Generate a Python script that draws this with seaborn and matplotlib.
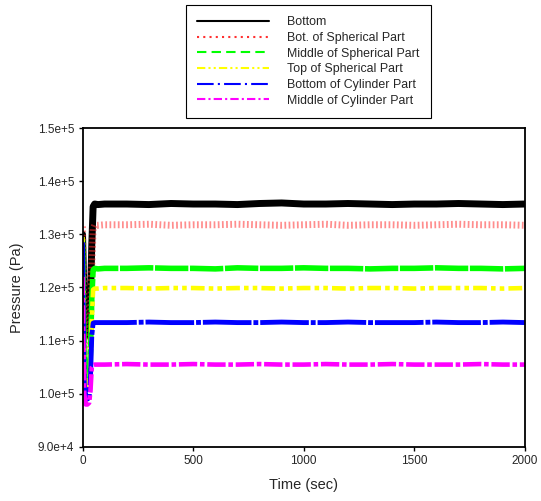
import matplotlib
matplotlib.use("Agg")
import matplotlib.pyplot as plt
from matplotlib.lines import Line2D
from matplotlib.ticker import FuncFormatter, MultipleLocator
import pandas as pd
import seaborn as sns

# Sample times (s)
time_s = [0, 3, 8, 15, 22, 30, 36, 42, 48, 55, 70, 100,
          200, 300, 400, 500, 600, 700, 800, 900, 1000, 1100,
          1200, 1300, 1400, 1500, 1600, 1700, 1800, 1900, 2000]

# Pressure readings (Pa) at each monitoring location
p_bottom = [130000, 125000, 116000, 112000, 111000, 112500, 118000, 128000, 135200, 135700, 135600, 135700,
            135700, 135600, 135800, 135700, 135700, 135600, 135800, 135900, 135700, 135700,
            135800, 135700, 135600, 135700, 135700, 135800, 135700, 135600, 135700]
p_bot_sph = [131500, 125000, 114000, 109500, 108000, 109000, 114000, 124000, 131000, 131700, 131700, 131800,
             131800, 131900, 131700, 131800, 131800, 131900, 131800, 131700, 131800, 131900,
             131700, 131800, 131800, 131700, 131800, 131900, 131800, 131800, 131700]
p_mid_sph = [129000, 120000, 107000, 103500, 102500, 103000, 108000, 118000, 123300, 123600, 123500, 123600,
             123600, 123700, 123600, 123600, 123500, 123700, 123600, 123600, 123700, 123600,
             123600, 123500, 123600, 123600, 123700, 123600, 123600, 123500, 123600]
p_top_sph = [129500, 119000, 105000, 101500, 100700, 101000, 105000, 114000, 119600, 119800, 119800, 119900,
             119900, 119800, 119900, 119900, 119800, 119900, 119900, 119800, 119900, 119900,
             119800, 119900, 119900, 119800, 119900, 119900, 119900, 119800, 119900]
p_bot_cyl = [128500, 117000, 102000, 99500, 99000, 99300, 103000, 111000, 113300, 113400, 113400, 113400,
             113400, 113500, 113400, 113400, 113500, 113400, 113400, 113500, 113400, 113400,
             113500, 113400, 113400, 113400, 113500, 113400, 113400, 113500, 113400]
p_mid_cyl = [122000, 112000, 100000, 98000, 98000, 98300, 100500, 105000, 105400, 105500, 105500, 105500,
             105600, 105500, 105500, 105600, 105500, 105500, 105600, 105500, 105500, 105600,
             105500, 105500, 105600, 105500, 105500, 105500, 105600, 105500, 105500]

series_names = ["Bottom", "Bot. of Spherical Part", "Middle of Spherical Part",
                "Top of Spherical Part", "Bottom of Cylinder Part", "Middle of Cylinder Part"]
series_values = [p_bottom, p_bot_sph, p_mid_sph, p_top_sph, p_bot_cyl, p_mid_cyl]
colors = ["#000000", "#ff3030", "#00ff00", "#ffff00", "#0000ff", "#ff00ff"]

# dash patterns for the data bands and for the legend keys
plot_dashes = ["", (0.25, 0.35), (6, 0.3), (3, 0.9, 1, 0.9, 1, 0.9), (10, 0.4, 1, 0.4), (4, 0.6, 1, 0.6)]
plot_widths = [5.0, 5.0, 4.0, 3.3, 3.5, 3.3]
key_dashes = [None, (1, 2), (4.5, 2.5), (4, 1.5, 1, 1.5, 1, 1.5), (8, 2, 1, 2), (4, 1.5, 1, 1.5)]

df = pd.concat(
    [pd.DataFrame({"Time": time_s, "Pressure": v, "Location": n})
     for n, v in zip(series_names, series_values)],
    ignore_index=True,
)

sns.set_style("ticks")
plt.rcParams["font.family"] = ["Liberation Sans", "DejaVu Sans"]

fig = plt.figure(figsize=(5.41, 5.01), dpi=100)
ax = fig.add_axes([0.1525, 0.1078, 0.8179, 0.6367])

sns.lineplot(
    data=df, x="Time", y="Pressure",
    hue="Location", hue_order=series_names, palette=dict(zip(series_names, colors)),
    style="Location", style_order=series_names, dashes=dict(zip(series_names, plot_dashes)),
    size="Location", size_order=series_names, sizes=dict(zip(series_names, plot_widths)),
    legend=False, ax=ax, estimator=None, sort=False,
)
for ln, c in zip(ax.get_lines(), colors):
    if c == "#ff3030":
        ln.set_alpha(0.55)

ax.set_xlim(0, 2000)
ax.set_ylim(90000, 150000)
ax.xaxis.set_major_locator(MultipleLocator(500))
ax.yaxis.set_major_locator(MultipleLocator(10000))


def sci_fmt(v, pos):
    mant, exp = f"{v:.1e}".split("e")
    return f"{mant}e{int(exp):+d}"


ax.yaxis.set_major_formatter(FuncFormatter(sci_fmt))
ax.tick_params(direction="out", length=3, width=1, labelsize=8.5, pad=3, color="black")
for s in ax.spines.values():
    s.set_visible(True)
    s.set_linewidth(1.3)
    s.set_color("black")

ax.set_xlabel("Time (sec)", fontsize=10.5, labelpad=8)
ax.set_ylabel("Pressure (Pa)", fontsize=10.5, labelpad=10)

handles = []
for c, d in zip(colors, key_dashes):
    h = Line2D([], [], color=c, linewidth=1.5)
    if d is not None:
        h.set_dashes(d)
    handles.append(h)

leg = fig.legend(
    handles, series_names, loc="upper left",
    bbox_to_anchor=(186 / 541, 1 - 5 / 501), bbox_transform=fig.transFigure,
    frameon=True, fancybox=False, edgecolor="black", framealpha=1,
    fontsize=8.9, handlelength=5.8, handletextpad=1.5, borderpad=0.9,
    labelspacing=0.3, borderaxespad=0,
)
leg.get_frame().set_linewidth(0.8)

fig.savefig("out.png", dpi=100)
